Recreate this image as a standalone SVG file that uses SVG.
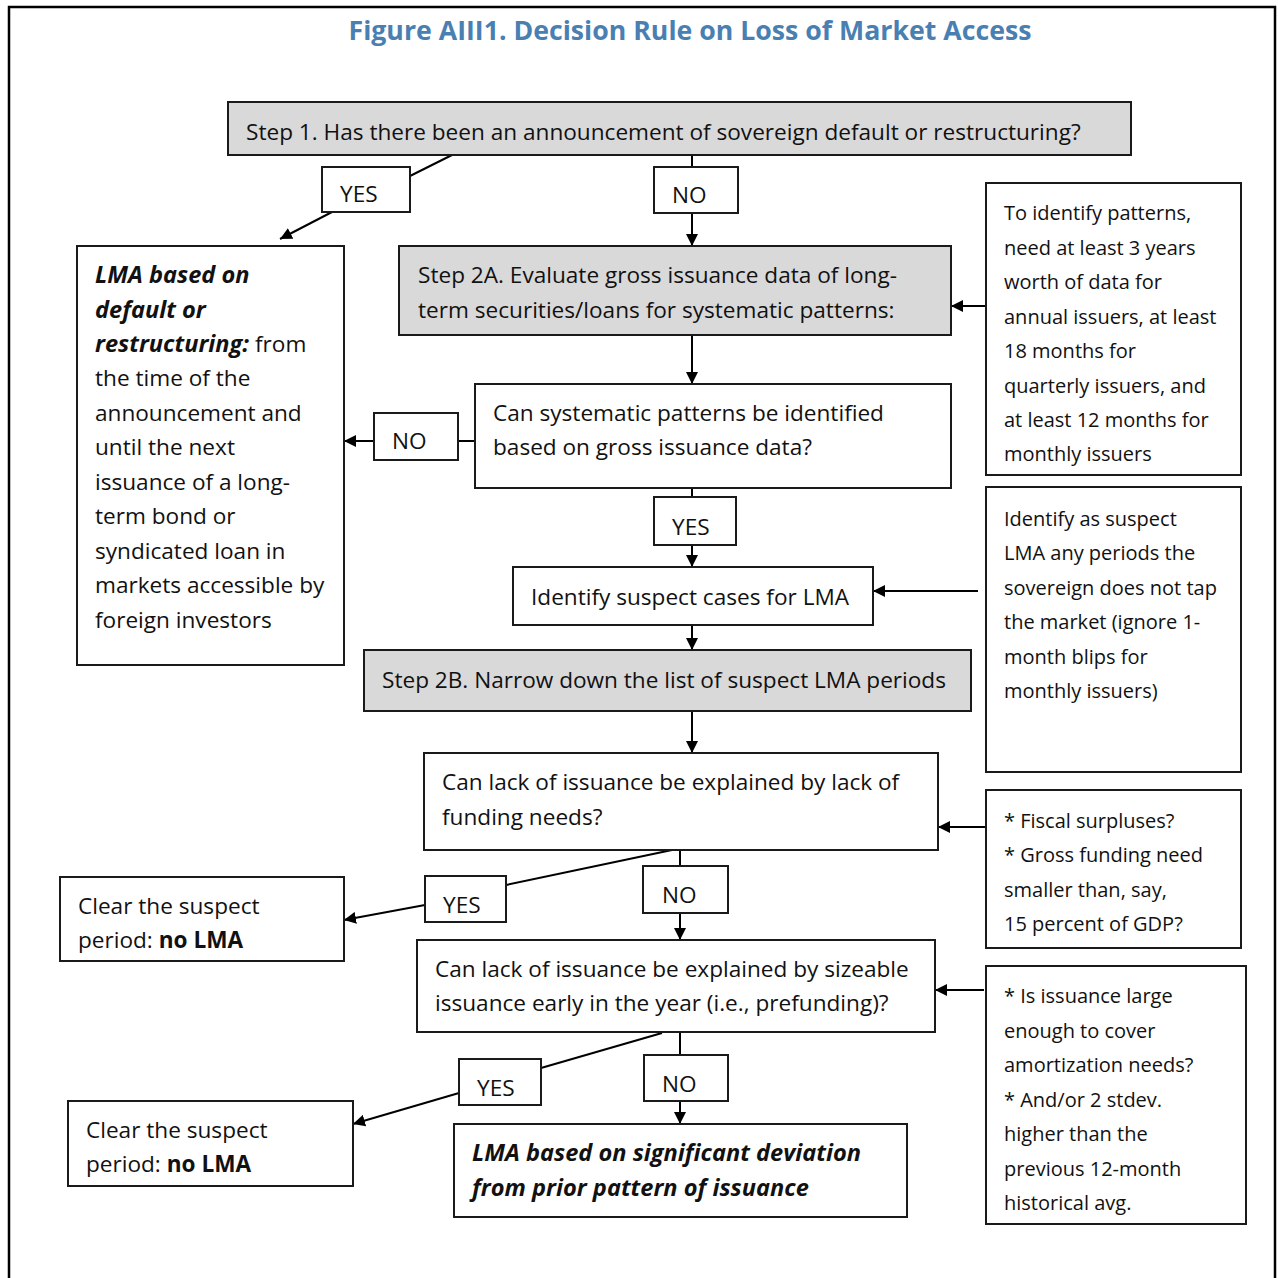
<svg xmlns="http://www.w3.org/2000/svg" width="1278" height="1278" viewBox="0 0 1278 1278">
<defs>
<marker id="ah" viewBox="0 0 12 12" refX="12" refY="6" markerWidth="12" markerHeight="12" markerUnits="userSpaceOnUse" orient="auto">
<path d="M0,0 L12,6 L0,12 Z" fill="#000"/>
</marker>
</defs>
<style>
.box{fill:#fff;stroke:#1a1a1a;stroke-width:2}
.gray{fill:#d9d9d9;stroke:#1a1a1a;stroke-width:2}
.lbl{fill:#fff;stroke:#1a1a1a;stroke-width:2}
text{font-family:"Open Sans","Noto Sans","DejaVu Sans",sans-serif;font-size:20px;fill:#111}
.t{font-size:22.6px}
.l{font-size:22.6px}
.bi{font-weight:bold;font-style:italic;font-size:23.6px}
.b{font-weight:bold}
.title{font-size:26.7px;font-weight:bold;fill:#4A7FB2}
.c{fill:none;stroke:#000;stroke-width:2}
.a{fill:none;stroke:#000;stroke-width:2;marker-end:url(#ah)}
</style>
<rect width="1278" height="1278" fill="#fff"/>
<rect x="9" y="7" width="1266" height="1290" fill="none" stroke="#000" stroke-width="2.5"/>
<text class="title" x="690" y="40" text-anchor="middle">Figure AIII1. Decision Rule on Loss of Market Access</text>

<g id="connectors">
<line class="c" x1="452" y1="155" x2="410" y2="176"/>
<line class="a" x1="332" y1="212" x2="280" y2="239"/>
<line class="c" x1="692" y1="155" x2="692" y2="167"/>
<line class="a" x1="692" y1="213" x2="692" y2="246"/>
<line class="a" x1="986" y1="306" x2="951" y2="306"/>
<line class="a" x1="692" y1="335" x2="692" y2="384"/>
<line class="c" x1="475" y1="441" x2="458" y2="441"/>
<line class="a" x1="374" y1="441" x2="344" y2="441"/>
<line class="c" x1="692" y1="488" x2="692" y2="497"/>
<line class="a" x1="692" y1="545" x2="692" y2="567"/>
<line class="a" x1="978" y1="591" x2="873" y2="591"/>
<line class="a" x1="692" y1="625" x2="692" y2="650"/>
<line class="a" x1="692" y1="711" x2="692" y2="753"/>
<line class="a" x1="986" y1="827" x2="938" y2="827"/>
<line class="c" x1="680" y1="850" x2="680" y2="866"/>
<line class="a" x1="680" y1="913" x2="680" y2="940"/>
<line class="c" x1="672" y1="850" x2="506" y2="885"/>
<line class="a" x1="425" y1="905" x2="344" y2="920"/>
<line class="a" x1="984" y1="990" x2="935" y2="990"/>
<line class="c" x1="680" y1="1032" x2="680" y2="1055"/>
<line class="a" x1="680" y1="1101" x2="680" y2="1124"/>
<line class="c" x1="662" y1="1033" x2="541" y2="1068"/>
<line class="a" x1="459" y1="1093" x2="353" y2="1124"/>
</g>

<g id="step1">
<rect class="gray" x="228" y="102" width="903" height="53"/>
<text class="t" x="246" y="140">Step 1. Has there been an announcement of sovereign default or restructuring?</text>
</g>
<g id="yes1">
<rect class="lbl" x="322" y="167" width="88" height="45"/>
<text class="l" x="340" y="202">YES</text>
</g>
<g id="no1">
<rect class="lbl" x="654" y="167" width="84" height="46"/>
<text class="l" x="672" y="203">NO</text>
</g>
<g id="step2a">
<rect class="gray" x="399" y="246" width="552" height="89"/>
<text class="t" x="418" y="283">Step 2A. Evaluate gross issuance data of long-</text>
<text class="t" x="418" y="318">term securities/loans for systematic patterns:</text>
</g>
<g id="note1">
<rect class="box" x="986" y="183" width="255" height="292"/>
<text x="1004" y="220">To identify patterns,</text>
<text x="1004" y="255">need at least 3 years</text>
<text x="1004" y="289">worth of data for</text>
<text x="1004" y="324">annual issuers, at least</text>
<text x="1004" y="358">18 months for</text>
<text x="1004" y="393">quarterly issuers, and</text>
<text x="1004" y="427">at least 12 months for</text>
<text x="1004" y="461">monthly issuers</text>
</g>
<g id="lma-default">
<rect class="box" x="77" y="246" width="267" height="419"/>
<text class="t" x="95" y="283"><tspan class="bi">LMA based on</tspan></text>
<text class="t" x="95" y="318"><tspan class="bi">default or</tspan></text>
<text class="t" x="95" y="352"><tspan class="bi">restructuring:</tspan> from</text>
<text class="t" x="95" y="386">the time of the</text>
<text class="t" x="95" y="421">announcement and</text>
<text class="t" x="95" y="455">until the next</text>
<text class="t" x="95" y="490">issuance of a long-</text>
<text class="t" x="95" y="524">term bond or</text>
<text class="t" x="95" y="559">syndicated loan in</text>
<text class="t" x="95" y="593">markets accessible by</text>
<text class="t" x="95" y="628">foreign investors</text>
</g>
<g id="can-systematic">
<rect class="box" x="475" y="384" width="476" height="104"/>
<text class="t" x="493" y="421">Can systematic patterns be identified</text>
<text class="t" x="493" y="455">based on gross issuance data?</text>
</g>
<g id="no2">
<rect class="lbl" x="374" y="413" width="84" height="47"/>
<text class="l" x="392" y="449">NO</text>
</g>
<g id="yes2">
<rect class="lbl" x="654" y="497" width="82" height="48"/>
<text class="l" x="672" y="535">YES</text>
</g>
<g id="identify">
<rect class="box" x="513" y="567" width="360" height="58"/>
<text class="t" x="531" y="605">Identify suspect cases for LMA</text>
</g>
<g id="note2">
<rect class="box" x="986" y="487" width="255" height="285"/>
<text x="1004" y="526">Identify as suspect</text>
<text x="1004" y="560">LMA any periods the</text>
<text x="1004" y="595">sovereign does not tap</text>
<text x="1004" y="629">the market (ignore 1-</text>
<text x="1004" y="664">month blips for</text>
<text x="1004" y="698">monthly issuers)</text>
</g>
<g id="step2b">
<rect class="gray" x="364" y="650" width="607" height="61"/>
<text class="t" x="382" y="688">Step 2B. Narrow down the list of suspect LMA periods</text>
</g>
<g id="funding">
<rect class="box" x="424" y="753" width="514" height="97"/>
<text class="t" x="442" y="790">Can lack of issuance be explained by lack of</text>
<text class="t" x="442" y="825">funding needs?</text>
</g>
<g id="note3">
<rect class="box" x="986" y="790" width="255" height="158"/>
<text x="1004" y="828">* Fiscal surpluses?</text>
<text x="1004" y="862" textLength="199" lengthAdjust="spacingAndGlyphs">* Gross funding need</text>
<text x="1004" y="897">smaller than, say,</text>
<text x="1004" y="931">15 percent of GDP?</text>
</g>
<g id="yes3">
<rect class="lbl" x="425" y="876" width="81" height="46"/>
<text class="l" x="443" y="913">YES</text>
</g>
<g id="no3">
<rect class="lbl" x="643" y="866" width="85" height="47"/>
<text class="l" x="662" y="903">NO</text>
</g>
<g id="clear1">
<rect class="box" x="60" y="877" width="284" height="84"/>
<text class="t" x="78" y="914">Clear the suspect</text>
<text class="t" x="78" y="948">period: <tspan class="b">no LMA</tspan></text>
</g>
<g id="prefunding">
<rect class="box" x="417" y="940" width="518" height="92"/>
<text class="t" x="435" y="977">Can lack of issuance be explained by sizeable</text>
<text class="t" x="435" y="1011">issuance early in the year (i.e., prefunding)?</text>
</g>
<g id="note4">
<rect class="box" x="986" y="966" width="260" height="258"/>
<text x="1004" y="1003">* Is issuance large</text>
<text x="1004" y="1038">enough to cover</text>
<text x="1004" y="1072">amortization needs?</text>
<text x="1004" y="1107">* And/or 2 stdev.</text>
<text x="1004" y="1141">higher than the</text>
<text x="1004" y="1176">previous 12-month</text>
<text x="1004" y="1210">historical avg.</text>
</g>
<g id="no4">
<rect class="lbl" x="644" y="1055" width="84" height="46"/>
<text class="l" x="662" y="1092">NO</text>
</g>
<g id="yes4">
<rect class="lbl" x="459" y="1059" width="82" height="46"/>
<text class="l" x="477" y="1096">YES</text>
</g>
<g id="clear2">
<rect class="box" x="68" y="1101" width="285" height="85"/>
<text class="t" x="86" y="1138">Clear the suspect</text>
<text class="t" x="86" y="1172">period: <tspan class="b">no LMA</tspan></text>
</g>
<g id="lma-deviation">
<rect class="box" x="454" y="1124" width="453" height="93"/>
<text class="bi" x="472" y="1161">LMA based on significant deviation</text>
<text class="bi" x="472" y="1196">from prior pattern of issuance</text>
</g>
</svg>
